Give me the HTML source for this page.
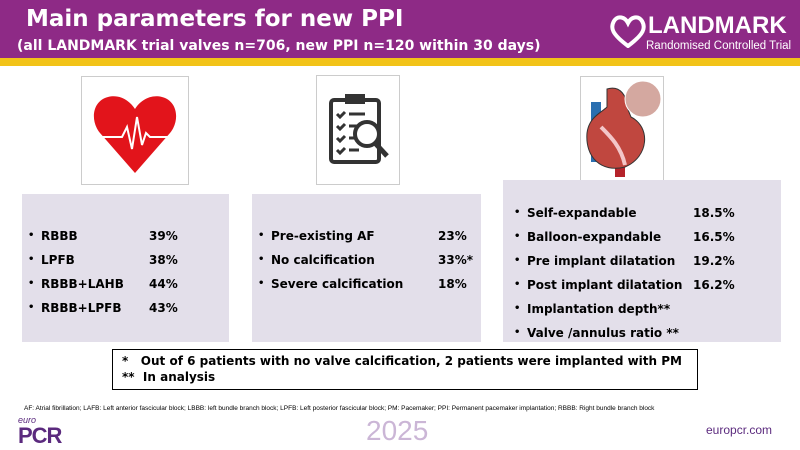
<!DOCTYPE html>
<html><head><meta charset="utf-8"><style>
body{margin:0;width:800px;height:450px;position:relative;background:#fff;font-family:"DejaVu Sans","Liberation Sans",sans-serif;overflow:hidden}
.abs{position:absolute}
.hdr{left:0;top:0;width:800px;height:58px;background:#8e2a86}
.ybar{left:0;top:58px;width:800px;height:8px;background:#f2c318}
.t1{left:26px;top:6px;color:#fff;font-weight:bold;font-size:23px}
.t2{left:17px;top:38px;color:#fff;font-weight:bold;font-size:14px}
.imgbox{border:1px solid #ccc;background:#fff}
.panel{background:#e3dfea}
.item{position:absolute;font-weight:bold;font-size:12px;color:#000;white-space:nowrap}
.item .v{position:absolute}
.bul{position:absolute;left:-13px;font-size:10px;top:1px}
</style></head><body>
<div class="abs hdr"></div>
<div class="abs ybar"></div>
<div class="abs t1">Main parameters for new PPI</div>
<div class="abs t2">(all LANDMARK trial valves n=706, new PPI n=120 within 30 days)</div>
<div class="abs" style="left:610px;top:12px;color:#fff;width:180px;height:46px;white-space:nowrap">
<svg class="abs" style="left:0;top:2px" width="36" height="34" viewBox="0 0 36 34"><path d="M18 32 C2 20 0 14 4 7 C8 1 15 3 18 9 C21 3 28 1 32 7 C36 14 34 20 18 32 Z" fill="none" stroke="#fff" stroke-width="4"/></svg>
<div class="abs" style="left:38px;top:0;font-family:'Liberation Sans',sans-serif;font-weight:bold;font-size:24px">LANDMARK</div>
<div class="abs" style="left:36px;top:28px;font-family:'Liberation Sans',sans-serif;font-size:11.5px">Randomised Controlled Trial</div>
</div>

<div class="abs imgbox" style="left:81px;top:76px;width:106px;height:107px">
<svg width="106" height="107" viewBox="0 0 106 107"><path d="M53 96 L18 56 C8 44 10 24 26 20 C38 17 48 24 53 32 C58 24 68 17 80 20 C96 24 98 44 88 56 Z" fill="#e2141b"/><polyline points="14,60 40,60 45,50 50,72 55,40 60,68 64,56 68,60 92,60" fill="none" stroke="#fff" stroke-width="2"/></svg></div>
<div class="abs imgbox" style="left:316px;top:75px;width:82px;height:108px">
<svg width="82" height="108" viewBox="0 0 82 108"><rect x="14" y="24" width="48" height="62" rx="3" fill="none" stroke="#333" stroke-width="4"/><rect x="28" y="18" width="20" height="10" fill="#333"/><g stroke="#333" stroke-width="3" fill="none"><path d="M20 38l3 3 5-5M20 50l3 3 5-5M20 62l3 3 5-5M20 74l3 3 5-5"/><path d="M32 38h16M32 50h10M32 62h8M32 74h10"/></g><circle cx="50" cy="58" r="12" fill="#fff" stroke="#333" stroke-width="4"/><line x1="58" y1="67" x2="70" y2="80" stroke="#333" stroke-width="5"/></svg></div>
<div class="abs imgbox" style="left:580px;top:76px;width:82px;height:107px">
<svg width="82" height="107" viewBox="0 0 82 107"><rect x="10" y="25" width="10" height="60" fill="#2a6fb0"/><rect x="34" y="82" width="10" height="18" fill="#b5232a"/><path d="M26 12 C40 8 46 20 46 30 L50 40 C70 50 68 80 44 90 C20 96 4 80 6 56 C8 40 20 36 26 30 Z" fill="#c0473f" stroke="#333"/><path d="M20 50 C30 60 40 70 44 88" stroke="#f3c6c8" stroke-width="4" fill="none"/><circle cx="62" cy="22" r="18" fill="#d4a8a0" stroke="#fff"/></svg></div>

<div class="abs panel" style="left:22px;top:194px;width:207px;height:148px">
<div class="item" style="left:19px;top:35px"><span class="bul">•</span>RBBB<span class="v" style="left:108px">39%</span></div>
<div class="item" style="left:19px;top:59px"><span class="bul">•</span>LPFB<span class="v" style="left:108px">38%</span></div>
<div class="item" style="left:19px;top:83px"><span class="bul">•</span>RBBB+LAHB<span class="v" style="left:108px">44%</span></div>
<div class="item" style="left:19px;top:107px"><span class="bul">•</span>RBBB+LPFB<span class="v" style="left:108px">43%</span></div>
</div>
<div class="abs panel" style="left:252px;top:194px;width:229px;height:148px">
<div class="item" style="left:19px;top:35px"><span class="bul">•</span>Pre-existing AF<span class="v" style="left:167px">23%</span></div>
<div class="item" style="left:19px;top:59px"><span class="bul">•</span>No calcification<span class="v" style="left:167px">33%*</span></div>
<div class="item" style="left:19px;top:83px"><span class="bul">•</span>Severe calcification<span class="v" style="left:167px">18%</span></div>
</div>
<div class="abs panel" style="left:503px;top:180px;width:278px;height:162px">
<div class="item" style="left:24px;top:26px"><span class="bul">•</span>Self-expandable<span class="v" style="left:166px">18.5%</span></div>
<div class="item" style="left:24px;top:50px"><span class="bul">•</span>Balloon-expandable<span class="v" style="left:166px">16.5%</span></div>
<div class="item" style="left:24px;top:74px"><span class="bul">•</span>Pre implant dilatation<span class="v" style="left:166px">19.2%</span></div>
<div class="item" style="left:24px;top:98px"><span class="bul">•</span>Post implant dilatation<span class="v" style="left:166px">16.2%</span></div>
<div class="item" style="left:24px;top:122px"><span class="bul">•</span>Implantation depth**</div>
<div class="item" style="left:24px;top:146px"><span class="bul">•</span>Valve /annulus ratio **</div>
</div>
<div class="abs" style="left:112px;top:349px;width:584px;height:39px;border:1px solid #000;background:#fff">
<div class="item" style="left:9px;top:4px;font-size:12px">*&nbsp;&nbsp;&nbsp;Out of 6 patients with no valve calcification, 2 patients were implanted with PM</div>
<div class="item" style="left:9px;top:20px;font-size:12px">**&nbsp;&nbsp;In analysis</div>
</div>
<div class="abs" style="left:24px;top:405px;font-family:'Liberation Sans',sans-serif;font-size:6.5px;color:#000;white-space:nowrap">AF: Atrial fibrillation; LAFB: Left anterior fascicular block; LBBB: left bundle branch block; LPFB: Left posterior fascicular block; PM: Pacemaker; PPI: Permanent pacemaker implantation; RBBB: Right bundle branch block</div>
<div class="abs" style="left:18px;top:416px;color:#5b2a7e;font-family:'Liberation Sans',sans-serif">
<div style="font-size:9px;font-style:italic;line-height:9px">euro</div>
<div style="font-size:22px;font-weight:bold;line-height:22px;letter-spacing:-1px">PCR</div></div>
<div class="abs" style="left:366px;top:415px;color:#cbb6d6;font-family:'Liberation Sans',sans-serif;font-size:28px">2025</div>
<div class="abs" style="left:706px;top:423px;color:#5b2a7e;font-family:'Liberation Sans',sans-serif;font-size:12px">europcr.com</div>
</body></html>
